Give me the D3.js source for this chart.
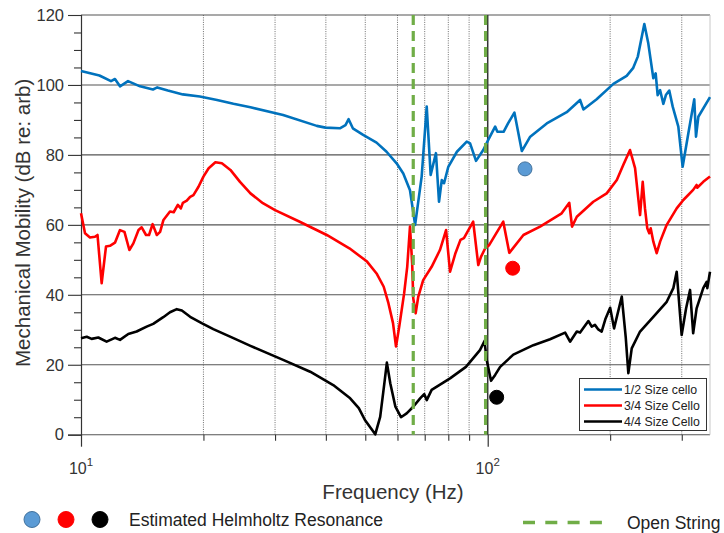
<!DOCTYPE html>
<html>
<head>
<meta charset="utf-8">
<script src="https://cdn.jsdelivr.net/npm/d3@7"></script>
<style>
  html, body { margin: 0; padding: 0; background: #fff; }
  svg { display: block; font-family: "Liberation Sans", Arial, sans-serif; }
</style>
</head>
<body>
<svg id="chart" width="724" height="533"></svg>
<script>
// Mobility curves: [frequency (Hz), level (dB re: arb)]
const halfSize = [[10,104.0],[11.1,102.7],[11.85,101.1],[12.12,101.7],[12.47,99.6],[13.05,101.1],[13.97,99.6],[15.03,98.7],[15.4,99.3],[16.35,98.4],[17.8,97.3],[19.6,96.7],[21.6,95.7],[23.7,94.6],[26.1,93.6],[31.4,91.4],[38.0,88.3],[39.9,87.8],[43.3,87.6],[44.7,88.5],[45.5,90.2],[46.6,87.6],[49.4,85.7],[53.3,83.5],[56.4,80.9],[59.7,77.6],[62.0,74.7],[64.4,69.9],[66.3,60.0],[68.8,73.8],[70.8,93.8],[72.4,74.3],[74.6,80.5],[75.9,66.6],[77.1,72.8],[78.1,71.9],[80.0,76.6],[84.0,80.9],[88.8,83.8],[90.5,83.3],[93.6,78.3],[97.5,81.4],[100.3,84.3],[104.3,88.1],[105.6,86.6],[109.4,86.6],[112.2,89.0],[116.3,92.1],[121.3,81.1],[127.2,85.2],[139.7,89.0],[156.4,92.2],[168.7,95.7],[171.9,93.0],[185.3,95.9],[203.7,100.3],[219.6,102.6],[227.7,104.8],[233.9,108.1],[242.7,117.4],[248.2,111.9],[255.4,101.9],[258.8,103.3],[261.7,97.1],[265.4,98.5],[270.3,94.6],[274.2,97.1],[279.5,98.4],[285,93.8],[294.2,88.1],[301.5,76.6],[311.4,86.2],[322,95.9],[325.2,85.2],[329.5,90.9],[352,96.5]];

const threeQuarter = [[10,63.3],[10.23,57.6],[10.52,56.4],[10.82,56.6],[10.98,57.1],[11.24,43.3],[11.52,53.8],[11.78,54.0],[12.12,54.9],[12.47,58.5],[12.79,58.0],[13.15,52.8],[13.45,54.7],[13.85,58.5],[14.1,59.3],[14.45,57.1],[14.7,57.1],[15.0,60.2],[15.36,57.1],[15.65,58.0],[15.95,61.4],[16.55,63.8],[16.9,63.6],[17.3,65.7],[17.6,64.7],[17.8,66.3],[18.2,66.9],[18.55,68.0],[18.9,68.5],[19.45,70.9],[20.0,73.8],[20.6,76.2],[21.4,77.9],[22.2,77.6],[23.3,75.7],[24.6,72.3],[26.1,69.0],[28.0,66.2],[30.0,64.2],[34.5,60.9],[40.2,57.1],[45.7,53.3],[50.5,49.5],[53.3,46.1],[55.5,42.3],[57.0,37.6],[58.5,31.9],[59.5,25.2],[60.6,30.9],[62.3,40.4],[63.4,48.0],[64.4,59.5],[65.2,49.0],[65.6,39.0],[66.5,34.7],[67.5,39.5],[69.4,44.2],[72.8,48.0],[76.3,52.8],[79.0,58.5],[80.8,46.6],[83.3,51.9],[85.7,55.7],[87.4,56.2],[92.1,60.9],[94.8,48.5],[96.3,50.9],[98.6,53.3],[100.8,54.2],[109.2,60.9],[113.0,52.0],[122.4,57.1],[134.5,59.5],[152,63.3],[158.7,66.3],[161.2,59.5],[165.6,62.3],[181.8,66.6],[196.1,69.0],[207.7,72.8],[215.4,77.1],[223.8,81.4],[230.3,76.2],[236.9,62.8],[240.5,72.3],[243.6,64.7],[246.8,59.0],[249.6,57.6],[251.6,59.0],[255.4,55.2],[260.3,51.9],[265.4,55.2],[275.5,60.0],[291.5,64.7],[302.7,67.1],[320,70.0],[326.3,71.4],[327.4,70.6],[338.8,72.3],[352,73.8]];

const fullSize = [[10,27.6],[10.33,28.0],[10.62,27.4],[11.03,27.8],[11.56,26.6],[12.12,27.7],[12.47,27.1],[13.07,28.8],[13.7,29.5],[14.5,30.9],[15.05,31.7],[15.93,33.6],[16.55,35.0],[17.2,35.9],[17.7,35.5],[18.55,33.7],[19.8,31.9],[21.15,30.2],[23.7,27.6],[26.1,25.4],[31.4,21.4],[36.6,18.0],[41.7,14.2],[45.9,10.4],[48.2,7.6],[49.9,4.2],[52.9,0.1],[54.4,5.1],[55.7,14.7],[56.5,20.6],[57.6,14.7],[59.3,8.0],[61.2,5.0],[63.2,6.1],[65.6,8.0],[68.2,10.4],[69.8,11.6],[70.8,9.9],[72.8,12.8],[80.8,16.1],[88.4,19.4],[95.7,24.2],[98.2,26.8],[99.4,21.4],[101.9,15.4],[104.3,17.1],[107.3,19.4],[115.6,22.9],[129.5,25.6],[142.3,27.3],[155,29.2],[159.4,26.6],[165.6,29.5],[168.7,29.2],[176.8,32.5],[180.2,30.9],[183.5,31.4],[187,30.1],[190.6,29.5],[194.6,33.0],[200,36.3],[204.5,30.4],[213.6,39.5],[218.4,28.0],[221.7,17.6],[226,24.7],[236.9,29.5],[255.4,33.7],[275.5,38.0],[286,41.9],[291.5,46.6],[299.8,28.5],[307.4,36.1],[314.4,41.4],[320,29.0],[326.3,36.1],[338.8,41.9],[345.4,43.7],[346.7,41.9],[352,46.6]];

// Estimated Helmholtz resonances: [frequency, level]
const helmholtz = [[123.5,76.0],[115.2,47.6],[105.2,10.7]];
// Open string frequencies (Hz)
const openStrings = [65.6, 98.8];

const seriesNames = ["1/2 Size cello", "3/4 Size Cello", "4/4 Size Cello"];
const seriesColors = ["#0072BD", "#FF0000", "#000000"];
const helmholtzFill = ["#5B9BD5", "#FF0000", "#000000"];
const helmholtzStroke = ["#41719C", "#FF0000", "#000000"];

const yMajorTicks = [0, 20, 40, 60, 80, 100, 120];
const yMinorTicks = d3.range(0, 121, 5).filter(v => v % 20 !== 0);
const xMinorTicks = [20, 30, 40, 50, 60, 70, 80, 90, 200, 300];
const xMajorTicks = [10, 100];
const xTickLabels = [["10", "1"], ["10", "2"]];

const svg = d3.select("#chart");
const x = d3.scaleLog().domain([10, 352]).range([81, 710]);
const y = d3.scaleLinear().domain([0, 120]).range([434.7, 15]);
const [x0, x1] = x.range();
const [yb, yt] = y.range();

// Vertical dotted grid at minor decades
svg.append("g").selectAll("line").data(xMinorTicks).join("line")
  .attr("x1", d => x(d)).attr("x2", d => x(d))
  .attr("y1", yt).attr("y2", yb)
  .attr("stroke", "#6e6e6e").attr("stroke-width", 1)
  .attr("stroke-dasharray", "1,1.3");

// Horizontal major grid
svg.append("g").selectAll("line").data(yMajorTicks).join("line")
  .attr("x1", x0).attr("x2", x1)
  .attr("y1", d => y(d)).attr("y2", d => y(d))
  .attr("stroke", "#555").attr("stroke-width", 1.1);

// Right frame
svg.append("line").attr("x1", x1).attr("x2", x1).attr("y1", yt).attr("y2", yb)
  .attr("stroke", "#c8c8c8").attr("stroke-width", 1);

// Decade line at 100 Hz
svg.append("line").attr("x1", x(100)).attr("x2", x(100)).attr("y1", yt).attr("y2", yb)
  .attr("stroke", "#333").attr("stroke-width", 1.5);

// Y axis
const yAxis = d3.axisLeft(y).tickValues(yMajorTicks).tickSize(13).tickPadding(4)
  .tickFormat(d3.format("d"));
const gy = svg.append("g").attr("transform", `translate(${x0},0)`).call(yAxis);
gy.select(".domain").attr("stroke", "#333").attr("stroke-width", 1.2);
gy.selectAll(".tick line").attr("stroke", "#333").attr("stroke-width", 1.1);
gy.selectAll(".tick text").attr("font-size", 16.5).attr("fill", "#333")
  .attr("font-family", "Liberation Sans, Arial, sans-serif");
const yMinorAxis = d3.axisLeft(y).tickValues(yMinorTicks).tickSize(7).tickFormat("");
const gym = svg.append("g").attr("transform", `translate(${x0},0)`).call(yMinorAxis);
gym.select(".domain").remove();
gym.selectAll(".tick line").attr("stroke", "#333").attr("stroke-width", 1.1);

// X axis ticks
const xMinorAxis = d3.axisBottom(x).tickValues(xMinorTicks).tickSize(6).tickFormat("");
const gxm = svg.append("g").attr("transform", `translate(0,${yb})`).call(xMinorAxis);
gxm.select(".domain").remove();
gxm.selectAll(".tick line").attr("stroke", "#333").attr("stroke-width", 1.1);
const xMajorAxis = d3.axisBottom(x).tickValues(xMajorTicks).tickSize(12).tickFormat("");
const gx = svg.append("g").attr("transform", `translate(0,${yb})`).call(xMajorAxis);
gx.select(".domain").remove();
gx.selectAll(".tick line").attr("stroke", "#333").attr("stroke-width", 1.2);

// Power-of-ten labels
const xl = svg.append("g").selectAll("text").data(xMajorTicks).join("text")
  .attr("x", d => x(d)).attr("y", 473.5)
  .attr("text-anchor", "middle").attr("fill", "#333").attr("font-size", 16);
xl.append("tspan").text((d, i) => xTickLabels[i][0]);
xl.append("tspan").attr("dy", -7.5).attr("font-size", 11.5).text((d, i) => xTickLabels[i][1]);

// Axis titles
svg.append("text").attr("x", 393).attr("y", 498.5).attr("text-anchor", "middle")
  .attr("font-size", 20.5).attr("fill", "#333").text("Frequency (Hz)");
svg.append("text").attr("transform", `translate(30,${(yt + yb) / 2 - 2}) rotate(-90)`)
  .attr("text-anchor", "middle").attr("font-size", 20.5).attr("fill", "#333")
  .text("Mechanical Mobility (dB re: arb)");

// Curves
const line = d3.line().x(d => x(d[0])).y(d => y(d[1]));
[halfSize, threeQuarter, fullSize].forEach((s, i) => {
  svg.append("path").datum(s).attr("d", line)
    .attr("fill", "none").attr("stroke", seriesColors[i])
    .attr("stroke-width", 2.6).attr("stroke-linejoin", "round");
});

// Open-string markers
svg.append("g").selectAll("line").data(openStrings).join("line")
  .attr("x1", d => x(d)).attr("x2", d => x(d))
  .attr("y1", yt).attr("y2", yb)
  .attr("stroke", "#70AD47").attr("stroke-width", 3.2)
  .attr("stroke-dasharray", "10,6");

// Helmholtz resonance points
svg.append("g").selectAll("circle").data(helmholtz).join("circle")
  .attr("cx", d => x(d[0])).attr("cy", d => y(d[1])).attr("r", 7)
  .attr("fill", (d, i) => helmholtzFill[i])
  .attr("stroke", (d, i) => helmholtzStroke[i]).attr("stroke-width", 1);

// Series legend
const lg = svg.append("g");
lg.append("rect").attr("x", 579.5).attr("y", 378.5).attr("width", 127).attr("height", 52)
  .attr("fill", "#fff").attr("stroke", "#333").attr("stroke-width", 1);
seriesNames.forEach((name, i) => {
  const yy = 389.5 + i * 16;
  lg.append("line").attr("x1", 584).attr("x2", 622).attr("y1", yy).attr("y2", yy)
    .attr("stroke", seriesColors[i]).attr("stroke-width", 2.6);
  lg.append("text").attr("x", 624).attr("y", yy + 4.3).attr("font-size", 12.3)
    .attr("fill", "#222").text(name);
});

// Bottom key
const key = svg.append("g");
[32, 66, 100].forEach((cx, i) => {
  key.append("circle").attr("cx", cx).attr("cy", 519.5).attr("r", 8)
    .attr("fill", helmholtzFill[i]).attr("stroke", helmholtzStroke[i]).attr("stroke-width", 1);
});
key.append("text").attr("x", 129).attr("y", 525.5).attr("font-size", 17.5)
  .attr("fill", "#222").text("Estimated Helmholtz Resonance");
key.append("line").attr("x1", 523).attr("x2", 602).attr("y1", 522.5).attr("y2", 522.5)
  .attr("stroke", "#70AD47").attr("stroke-width", 3.5).attr("stroke-dasharray", "12,10.3");
key.append("text").attr("x", 627).attr("y", 528.5).attr("font-size", 17.5)
  .attr("fill", "#222").text("Open String");
</script>
</body>
</html>
